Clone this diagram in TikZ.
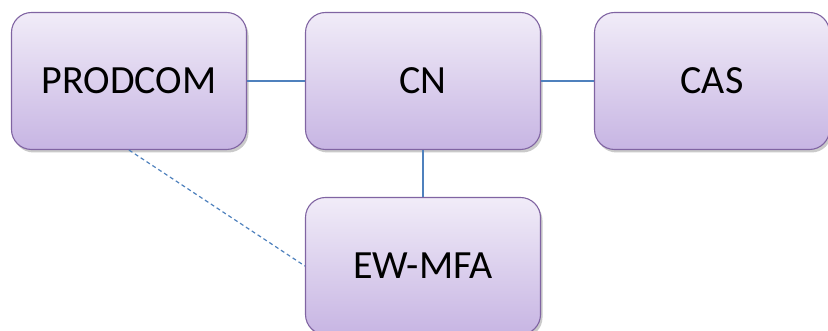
\documentclass[tikz,border=0pt]{standalone}
\usepackage{fontspec}
\setmainfont{Carlito}
\usetikzlibrary{shadows}
\definecolor{boxline}{RGB}{128, 100, 162}
\definecolor{boxtop}{RGB}{241, 236, 248}
\definecolor{boxbottom}{RGB}{199, 181, 227}
\definecolor{linkblue}{RGB}{79, 129, 189}

\begin{document}
\begin{tikzpicture}[x=1pt, y=-1pt,
  box/.style={draw=boxline, line width=1.1pt, rounded corners=20pt,
    top color=boxtop, bottom color=boxbottom,
    minimum width=235pt, minimum height=137pt,
    font=\fontsize{40}{48}\selectfont,
    drop shadow={shadow xshift=2pt, shadow yshift=-3pt, opacity=0.35, fill=black!60}},
  link/.style={draw=linkblue, line width=1.2pt}]

  \useasboundingbox (0,0) rectangle (828,331);

  \draw[]
   (129,81) node[box](prodcom) {PRODCOM}
   (423,81) node[box](cn) {CN}
   (712,81) node[box](cas) {CAS}
   (423,266) node[box](ewmfa) {EW-MFA};

  %links
  \draw[link] (prodcom) -- (cn);
  \draw[link] (cn) -- (cas);
  \draw[link] (cn) -- (ewmfa);
  \draw[link, dash pattern=on 4pt off 3pt] (prodcom.south) -- (ewmfa.west);
\end{tikzpicture}
\end{document}
